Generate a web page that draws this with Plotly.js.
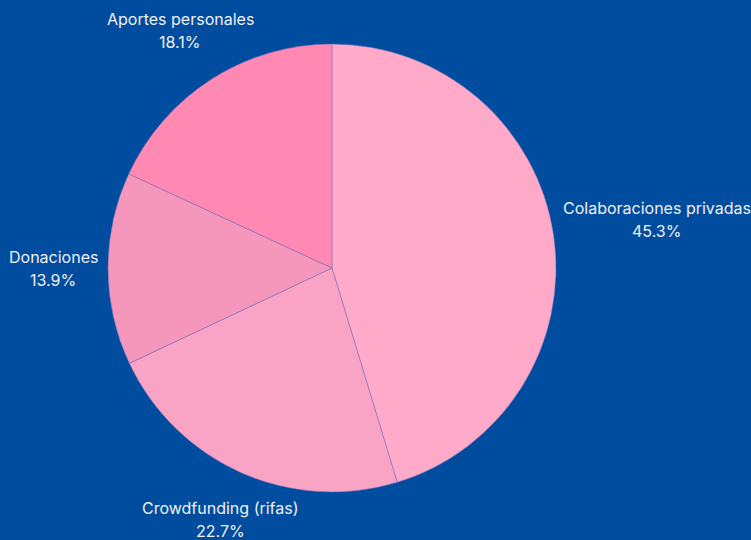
<!DOCTYPE html>
<html>
<head>
<meta charset="utf-8">
<script src="https://cdn.plot.ly/plotly-3.0.1.min.js"></script>
<style>html,body{margin:0;padding:0;background:#004C9F;}</style>
</head>
<body>
<div id="chart" style="width:751px;height:540px;"></div>
<script>
const labels = ["Colaboraciones privadas", "Crowdfunding (rifas)", "Donaciones", "Aportes personales"];
const values = [45.3, 22.7, 13.9, 18.1];
const colors = ["#FFAAC9", "#F9A4C4", "#F597BB", "#FF89B3"];

const W = 751, H = 540;
const FONT_SIZE = 16, FONT_FAMILY = "Inter, sans-serif", TEXT_COLOR = "#F0F0F0";
const domX = [108 / W, 556 / W], domY = [48 / H, 496 / H];
const cx = W * (domX[0] + domX[1]) / 2;
const cy = H * (1 - (domY[0] + domY[1]) / 2);
const R = Math.min((domX[1] - domX[0]) * W, (domY[1] - domY[0]) * H) / 2;
const GAP = 10, LINE_STEP = 23, HALF_H = 10;

const ctx = document.createElement("canvas").getContext("2d");
ctx.font = FONT_SIZE + "px Inter";
const total = values.reduce((a, b) => a + b, 0);
const annotations = [];
let cum = 0;
values.forEach((v, i) => {
  const mid = (cum + v / 2) / total;
  cum += v;
  const th = mid * 2 * Math.PI;
  const ux = Math.sin(th), uy = -Math.cos(th);
  const pct = (v / total * 100).toFixed(1) + "%";
  const halfW = Math.max(ctx.measureText(labels[i]).width, ctx.measureText(pct).width) / 2;
  const d = R + GAP + halfW * Math.abs(ux) + HALF_H * Math.abs(uy);
  const px = cx + ux * d, py = cy + uy * d;
  [[labels[i], -LINE_STEP / 2], [pct, LINE_STEP / 2]].forEach(([t, off]) => {
    annotations.push({
      text: t, xref: "paper", yref: "paper",
      x: px / W, y: 1 - (py + off) / H,
      xanchor: "center", yanchor: "middle", showarrow: false,
      font: {family: FONT_FAMILY, size: FONT_SIZE, color: TEXT_COLOR}
    });
  });
});

Plotly.newPlot("chart", [{
  type: "pie",
  labels: labels,
  values: values,
  sort: false,
  direction: "clockwise",
  rotation: 0,
  textinfo: "none",
  domain: {x: domX, y: domY},
  marker: {colors: colors, line: {color: "#7E6FB8", width: 0.5}},
  hoverinfo: "label+percent",
  showlegend: false
}], {
  width: W,
  height: H,
  paper_bgcolor: "#004C9F",
  plot_bgcolor: "#004C9F",
  margin: {l: 0, r: 0, t: 0, b: 0},
  font: {family: FONT_FAMILY, color: TEXT_COLOR, size: FONT_SIZE},
  annotations: annotations,
  showlegend: false
}, {displayModeBar: false});
</script>
</body>
</html>
